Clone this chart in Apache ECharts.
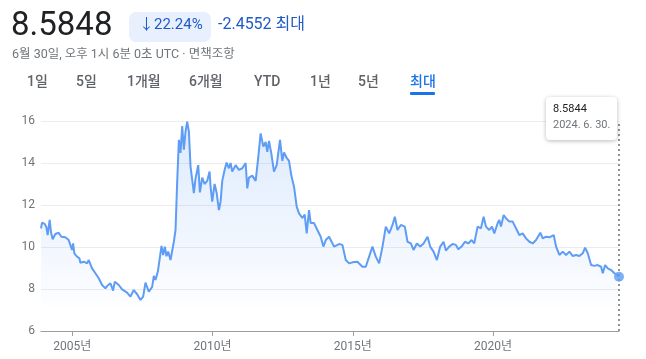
<!DOCTYPE html>
<html><head><meta charset="utf-8">
<script src="https://cdn.jsdelivr.net/npm/echarts@6/dist/echarts.min.js"></script>
<style>html,body{margin:0;padding:0;background:#fff}#c{width:646px;height:359px}</style>
</head><body><div id="c"></div>
<script>
// decimal years
const years = [2003.881,2003.917,2004.012,2004.071,2004.119,2004.190,2004.238,2004.298,2004.393,2004.512,2004.607,2004.750,2004.869,2004.929,2004.988,2005.024,2005.071,2005.143,2005.25,2005.286,2005.405,2005.524,2005.583,2005.702,2005.821,2005.940,2006.060,2006.179,2006.238,2006.357,2006.452,2006.512,2006.655,2006.774,2006.952,2007.071,2007.190,2007.310,2007.429,2007.524,2007.607,2007.726,2007.845,2007.905,2007.964,2008.048,2008.119,2008.179,2008.238,2008.298,2008.357,2008.417,2008.5,2008.560,2008.619,2008.679,2008.738,2008.798,2008.857,2008.917,2008.976,2009.036,2009.095,2009.155,2009.214,2009.274,2009.333,2009.393,2009.488,2009.548,2009.631,2009.714,2009.810,2009.893,2009.929,2009.988,2010.071,2010.143,2010.226,2010.286,2010.345,2010.429,2010.5,2010.583,2010.643,2010.702,2010.821,2010.940,2011.060,2011.179,2011.238,2011.298,2011.417,2011.536,2011.619,2011.714,2011.810,2011.893,2011.952,2012.012,2012.095,2012.190,2012.286,2012.405,2012.488,2012.548,2012.643,2012.726,2012.810,2012.905,2013.0,2013.083,2013.202,2013.286,2013.357,2013.440,2013.5,2013.619,2013.738,2013.857,2013.952,2014.036,2014.155,2014.214,2014.333,2014.512,2014.631,2014.75,2014.869,2014.988,2015.167,2015.345,2015.464,2015.583,2015.702,2015.821,2015.940,2016.060,2016.179,2016.298,2016.417,2016.5,2016.595,2016.714,2016.857,2016.952,2017.071,2017.167,2017.286,2017.405,2017.524,2017.667,2017.762,2017.881,2018.0,2018.119,2018.238,2018.321,2018.440,2018.560,2018.679,2018.762,2018.881,2019.0,2019.119,2019.238,2019.333,2019.452,2019.571,2019.667,2019.75,2019.869,2019.964,2020.048,2020.167,2020.226,2020.286,2020.381,2020.464,2020.583,2020.702,2020.821,2020.940,2021.060,2021.179,2021.298,2021.417,2021.536,2021.690,2021.774,2021.893,2022.012,2022.167,2022.25,2022.369,2022.488,2022.607,2022.726,2022.845,2022.964,2023.083,2023.202,2023.286,2023.381,2023.5,2023.619,2023.738,2023.857,2023.917,2024.0,2024.095,2024.214,2024.333,2024.43,2024.495];
const values = [10.89,11.16,11.10,10.95,10.57,11.29,10.70,10.37,10.62,10.68,10.49,10.46,10.33,10.25,9.86,10.17,9.70,9.57,9.46,9.25,9.30,9.22,9.38,8.98,8.75,8.51,8.19,8.03,8.14,8.27,7.92,8.35,8.19,7.98,7.83,7.64,7.95,7.75,7.48,7.64,8.30,7.87,8.10,8.62,8.43,8.83,8.87,10.05,9.62,10.02,9.56,9.78,9.38,9.30,10.25,10.81,13.11,15.10,14.48,15.76,14.64,15.50,15.97,15.50,13.83,13.20,12.56,13.27,13.90,12.60,13.30,13.00,13.15,13.59,12.87,12.16,13.00,12.60,11.76,12.16,13.15,13.67,14.02,13.75,14.00,13.59,13.90,13.67,13.75,14.00,12.79,13.30,13.40,13.15,14.14,15.41,14.78,15.00,14.53,15.05,14.46,13.59,13.90,15.10,14.10,14.50,14.24,14.10,13.40,12.87,11.92,11.60,11.38,11.54,10.65,11.76,11.14,11.14,10.81,10.49,10.02,10.33,10.49,10.57,10.02,10.14,10.10,9.38,9.22,9.27,9.30,9.06,9.06,9.54,10.02,9.54,9.22,10.02,10.97,10.65,11.05,11.44,10.81,11.05,10.97,10.25,10.17,9.86,10.17,10.02,10.17,10.49,10.02,9.78,9.38,10.02,10.25,9.83,10.02,10.14,10.10,9.89,10.02,10.25,10.17,10.33,10.17,10.97,10.89,11.44,10.97,10.81,10.97,10.65,11.13,11.29,10.97,11.52,11.37,11.21,11.21,10.89,10.57,10.65,10.41,10.25,10.17,10.33,10.68,10.41,10.49,10.46,10.57,10.02,9.62,9.78,9.62,9.78,9.57,9.62,9.57,9.70,9.97,9.70,9.14,9.10,9.14,9.06,8.75,9.14,8.98,8.90,8.75,8.67,8.5848];
const yTicks = [6, 8, 10, 12, 14, 16];
const xTickYears = [2005, 2010, 2015, 2020];
const tabs = ['1일','5일','1개월','6개월','YTD','1년','5년','최대'];

const seriesData = years.map((y, i) => [y, values[i]]);
const last = seriesData[seriesData.length - 1];
const FONT = "Roboto, 'Noto Sans CJK KR', sans-serif";
const BLUE = '#5e9cf5';

const tabX = [27, 76, 127, 189, 254, 310, 358, 410];
const graphics = [
  {type:'text', left:11, top:10, style:{text:'8.5848', font:'400 33px '+FONT, fill:'#202124'}},
  {type:'rect', shape:{x:129, y:12, width:82, height:30, r:7}, style:{fill:'#e8f0fe'}},
  {type:'text', left:139, top:18, style:{text:'↓22.24%', font:'400 15px '+FONT, fill:'#1f5bc6'}},
  {type:'text', left:218, top:17, style:{text:'-2.4552 최대', font:'400 16px '+FONT, fill:'#1f5bc6'}},
  {type:'text', left:12, top:49, style:{text:'6월 30일, 오후 1시 6분 0초 UTC · 면책조항', font:'400 12.5px '+FONT, fill:'#70757a'}},
  {type:'rect', shape:{x:410, y:92, width:25, height:3, r:1}, style:{fill:'#1a73e8'}},
  {type:'rect', shape:{x:546, y:97, width:71, height:43, r:4}, style:{fill:'#fff', shadowBlur:4, shadowColor:'rgba(0,0,0,0.28)', shadowOffsetY:1}, z:100},
  {type:'text', left:553, top:104, z:101, style:{text:'8.5844', font:'400 11px '+FONT, fill:'#202124'}},
  {type:'text', left:553, top:120, z:101, style:{text:'2024. 6. 30.', font:'400 11px '+FONT, fill:'#70757a'}}
];
tabs.forEach((t, i) => {
  graphics.push({type:'text', left:tabX[i], top:76, style:{text:t, font:'500 14px '+FONT, fill: i === tabs.length-1 ? '#1a73e8' : '#5f6368'}});
});

const chart = echarts.init(document.getElementById('c'), null, {renderer:'canvas'});
chart.setOption({
  animation: false,
  backgroundColor: '#fff',
  grid: {left:41, right:27, top:121, bottom:28},
  xAxis: {
    type:'value', min: years[0], max: years[years.length-1],
    axisLine:{show:true, onZero:false, lineStyle:{color:'#9e9e9e', width:1}},
    axisTick:{show:true, length:5, lineStyle:{color:'#9e9e9e'}, customValues: xTickYears},
    axisLabel:{color:'#70757a', fontSize:12, fontFamily:FONT, margin:10,
      customValues: xTickYears, formatter: v => v + '년'},
    splitLine:{show:false}
  },
  yAxis: {
    type:'value', min: yTicks[0], max: yTicks[yTicks.length-1], interval: 2,
    axisLine:{show:false}, axisTick:{show:false},
    axisLabel:{color:'#70757a', fontSize:12, fontFamily:FONT, margin:6},
    splitLine:{lineStyle:{color:'#ececec'}}
  },
  series: [
    {type:'line', data: seriesData, showSymbol:false, symbol:'none',
     lineStyle:{color:BLUE, width:2},
     areaStyle:{color:new echarts.graphic.LinearGradient(0,0,0,1,[
        {offset:0, color:'rgba(94,156,245,0.30)'},
        {offset:0.8, color:'rgba(94,156,245,0.05)'},
        {offset:0.9, color:'rgba(94,156,245,0.0)'},
        {offset:1, color:'rgba(255,255,255,0)'}])},
     markLine:{silent:true, symbol:'none', label:{show:false},
       lineStyle:{color:'#707070', type:[2,3], width:1.5},
       data:[{xAxis: last[0]}]}
    },
    {type:'scatter', data:[last], symbolSize:10, itemStyle:{color:BLUE}, z:5}
  ],
  graphic: graphics
});
</script></body></html>
